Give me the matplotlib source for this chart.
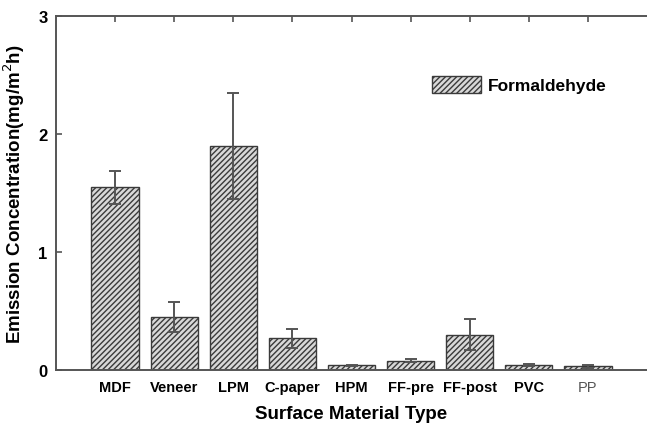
import matplotlib
matplotlib.use('Agg')
import matplotlib.pyplot as plt
import numpy as np

plt.rcParams['font.family'] = ['Liberation Sans', 'DejaVu Sans']
plt.rcParams['hatch.color'] = '#5a5a5a'
plt.rcParams['hatch.linewidth'] = 1.0

materials = ['MDF', 'Veneer', 'LPM', 'C-paper', 'HPM', 'FF-pre', 'FF-post', 'PVC', 'PP']
emission = [1.55, 0.45, 1.90, 0.27, 0.04, 0.08, 0.30, 0.04, 0.03]
error = [0.14, 0.13, 0.45, 0.08, 0.005, 0.01, 0.13, 0.01, 0.01]

fig = plt.figure(figsize=(6.47, 4.27), dpi=100)
ax = fig.add_axes([56 / 647, 56 / 427, 591 / 647, 354 / 427])

x = np.arange(1, len(materials) + 1)
ax.bar(x, emission, width=0.8, color='#d8d8d8', edgecolor='#3a3a3a',
       linewidth=1.0, hatch='//////', label='Formaldehyde', zorder=2)
ax.errorbar(x, emission, yerr=error, fmt='none', ecolor='#555555',
            elinewidth=1.4, capsize=4, capthick=1.4, zorder=3)

ax.set_xlim(0, 10)
ax.set_ylim(0, 3)
ax.set_yticks([0, 1, 2, 3])
ax.set_yticklabels(['0', '1', '2', '3'], fontweight='bold', fontsize=12)
ax.set_xticks(x)
ax.set_xticklabels(materials, fontweight='bold', fontsize=10.5)
ax.get_xticklabels()[-1].set_fontweight('normal')
ax.get_xticklabels()[-1].set_color('#555555')
ax.tick_params(axis='x', which='both', bottom=False, top=True, direction='in',
               length=4, width=1.2, color='#555555', pad=7)
ax.tick_params(axis='y', direction='in', length=4, width=1.2, color='#555555', pad=6)

ax.spines['right'].set_visible(False)
for s in ['left', 'top', 'bottom']:
    ax.spines[s].set_color('#555555')
    ax.spines[s].set_linewidth(1.4)

ax.set_ylabel('Emission Concentration(mg/m$^2$h)', fontweight='bold', fontsize=13.5, labelpad=8)
ax.set_xlabel('Surface Material Type', fontweight='bold', fontsize=13.5, labelpad=8)

leg = ax.legend(loc='upper left', bbox_to_anchor=(0.61, 0.875), frameon=False,
                fontsize=12.5, handlelength=2.8, handleheight=1.1, handletextpad=0.4)
for t in leg.get_texts():
    t.set_fontweight('bold')

fig.savefig('out.png', dpi=100)
